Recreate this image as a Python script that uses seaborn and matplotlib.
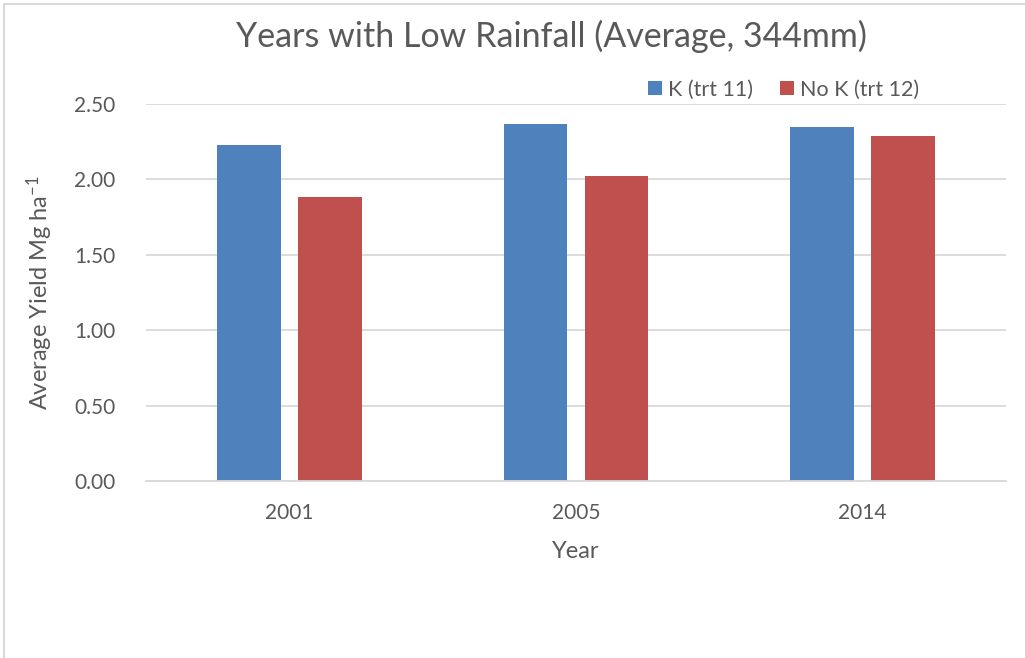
import matplotlib
matplotlib.use("Agg")
import matplotlib.pyplot as plt
from matplotlib.lines import Line2D
import seaborn as sns
import pandas as pd

years = ["2001", "2005", "2014"]
k_trt11 = [2.23, 2.37, 2.35]
nok_trt12 = [1.88, 2.02, 2.29]
series_names = ["K (trt 11)", "No K (trt 12)"]
y_ticks = [0.0, 0.5, 1.0, 1.5, 2.0, 2.5]

df = pd.DataFrame({
    "Year": years * 2,
    "Yield": k_trt11 + nok_trt12,
    "Treatment": [series_names[0]] * len(years) + [series_names[1]] * len(years),
})

sns.set_theme(style="white")
plt.rcParams["font.family"] = ["Lato", "DejaVu Sans"]
plt.rcParams["mathtext.fontset"] = "custom"
plt.rcParams["mathtext.rm"] = "Lato"
plt.rcParams["mathtext.it"] = "Lato:italic"

text_color = "#595959"
grid_color = "#d9d9d9"
palette = {series_names[0]: "#4F81BD", series_names[1]: "#C0504D"}

fig = plt.figure(figsize=(10.25, 6.58), dpi=100)
ax = fig.add_axes([0.1424, 0.269, 0.8391, 0.573])

sns.barplot(data=df, x="Year", y="Yield", hue="Treatment", order=years,
            hue_order=series_names, palette=palette, width=0.565, gap=0.21,
            saturation=1, linewidth=0, ax=ax, legend=False)

ax.set_xlim(-0.5, 2.5)
ax.set_ylim(0, 2.5)
ax.set_yticks(y_ticks)
ax.set_yticklabels([f"{v:.2f}" for v in y_ticks])
ax.yaxis.grid(True, color=grid_color, linewidth=1.3)
ax.set_axisbelow(True)
for side in ["top", "right", "left"]:
    ax.spines[side].set_visible(False)
ax.spines["bottom"].set_color(grid_color)
ax.spines["bottom"].set_linewidth(1.3)
ax.tick_params(axis="both", length=0, labelsize=15, colors=text_color)
ax.tick_params(axis="y", pad=22)
ax.tick_params(axis="x", pad=16)

ax.set_xlabel("Year", fontsize=17, color=text_color, labelpad=13)
ax.set_ylabel(r"Average Yield Mg ha$^{-1}$", fontsize=17, color=text_color, labelpad=14)

fig.text(0.5376, 0.945, "Years with Low Rainfall (Average, 344mm)",
         ha="center", va="center", fontsize=24.5, color=text_color)

handles = [Line2D([], [], marker="s", linestyle="none", markersize=10,
                  markerfacecolor=palette[n], markeredgewidth=0) for n in series_names]
fig.legend(handles, series_names, loc="center", bbox_to_anchor=(0.7624, 0.864),
           ncol=2, frameon=False, fontsize=15.5, handletextpad=0.1,
           columnspacing=1.1, handlelength=1.0, labelcolor=text_color)

# light outer frame along the top and left edges
fig.add_artist(Line2D([0.004, 1.0], [0.994, 0.994], color=grid_color, linewidth=1.5,
                      transform=fig.transFigure))
fig.add_artist(Line2D([0.004, 0.004], [0.0, 0.994], color=grid_color, linewidth=1.5,
                      transform=fig.transFigure))

fig.savefig("out.png", dpi=100)
